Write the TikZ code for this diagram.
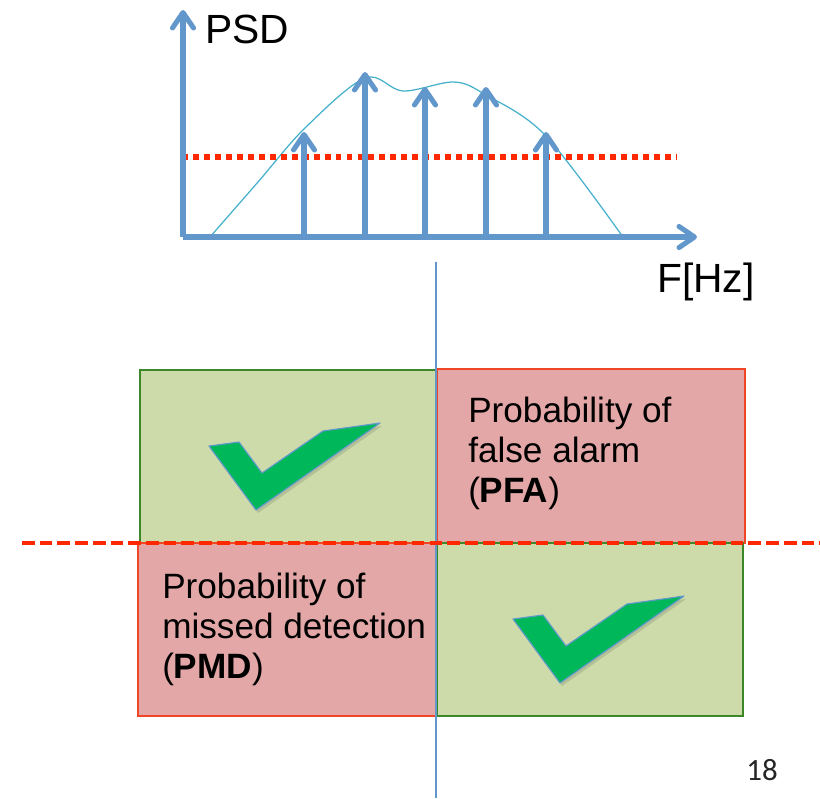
\documentclass[tikz,border=0pt]{standalone}
\usepackage{fontspec}
\setmainfont{Liberation Sans}
\newfontfamily\pagefont{Carlito}
\usetikzlibrary{arrows.meta}

\definecolor{axisblue}{RGB}{98,151,204}
\definecolor{curvecyan}{RGB}{72,178,204}
\definecolor{threshred}{RGB}{255,40,0}
\definecolor{okfill}{RGB}{205,219,170}
\definecolor{errfill}{RGB}{226,167,166}
\definecolor{okline}{RGB}{60,135,40}
\definecolor{errline}{RGB}{240,70,40}
\definecolor{checkgreen}{RGB}{0,184,90}

\begin{document}
\begin{tikzpicture}[
  x=0.025cm, y=-0.025cm,
  axis/.style={axisblue,line width=3.6pt,-{Straight Barb[length=11pt,width=15pt,round]}},
  stem/.style={axis},
  curve/.style={curvecyan,line width=0.9pt},
  dotline/.style={threshred,line width=3.8pt,dash pattern=on 4.2pt off 3.6pt},
  dashline/.style={threshred,line width=3pt,dash pattern=on 9pt off 3.6pt},
  okbox/.style={fill=okfill,draw=okline,line width=1pt},
  errbox/.style={fill=errfill,draw=errline,line width=1pt},
  checkmark/.style={fill=checkgreen,draw=axisblue,line width=0.8pt,line join=round},
  bigtext/.style={font=\fontsize{29}{34}\selectfont,inner sep=0pt},
  boxtext/.style={font=\fontsize{25}{28.5}\selectfont,align=left,inner sep=0pt,anchor=north west}
]
  \useasboundingbox (0,0) rectangle (820,798);

  % spectrum
  \coordinate (O) at (183,237);
  \coordinate (ytip) at (183,10);
  \coordinate (xtip) at (697,237);
  \draw[curve] plot[smooth,tension=0.55] coordinates
    {(210,237) (258,182) (305,128) (365,78) (403,91) (454,82) (486,95) (545,135) (623,237)};
  \draw[dotline] (182,157) coordinate (thl) -- (677,157) coordinate (thr);
  \foreach \x/\h [count=\i] in {304/132,365/72,425/87,486/87,546/132} {
    \coordinate (b\i) at (\x,237);
    \coordinate (t\i) at (\x,\h);
    \draw[stem] (b\i) -- (t\i);
  }
  \draw[axis] (O) -- (ytip);
  \draw[axis] (O) -- (xtip);
  \node[bigtext,anchor=base west] (psd) at (205,43) {PSD};
  \node[bigtext,anchor=base west] (freq) at (657,292) {F[Hz]};

  % outcome table
  \draw[okbox] (140,370) rectangle (437,543);
  \draw[errbox] (437,369) rectangle (745,543);
  \draw[errbox] (138,543) rectangle (437,716);
  \draw[okbox] (437,543) rectangle (743,716);
  \foreach \dx/\dy in {209/446,513/619} {
    \begin{scope}[shift={(\dx,\dy)}]
      \fill[black,opacity=0.12] (2,3) -- (32,-1) -- (55,30) -- (116,-12) -- (173,-20) -- (49,67) -- cycle;
      \draw[checkmark] (0,0) -- (30,-4) -- (53,27) -- (114,-15) -- (171,-23) -- (47,64) -- cycle;
    \end{scope}
  }
  \node[boxtext] (pfa) at (468,397) {Probability of\\false alarm\\(\textbf{PFA})};
  \node[boxtext] (pmd) at (162,573) {Probability of\\missed detection\\(\textbf{PMD})};

  \coordinate (vtop) at (436,262);
  \coordinate (vbot) at (436,798);
  \draw[axisblue,line width=1.4pt] (vtop) -- (vbot);
  \coordinate (hl) at (22,543);
  \coordinate (hr) at (820,543);
  \draw[dashline] (hl) -- (hr);

  \node[font=\pagefont\fontsize{22}{26}\selectfont,text=black!85,inner sep=0pt] (page) at (762,770) {18};
\end{tikzpicture}
\end{document}
